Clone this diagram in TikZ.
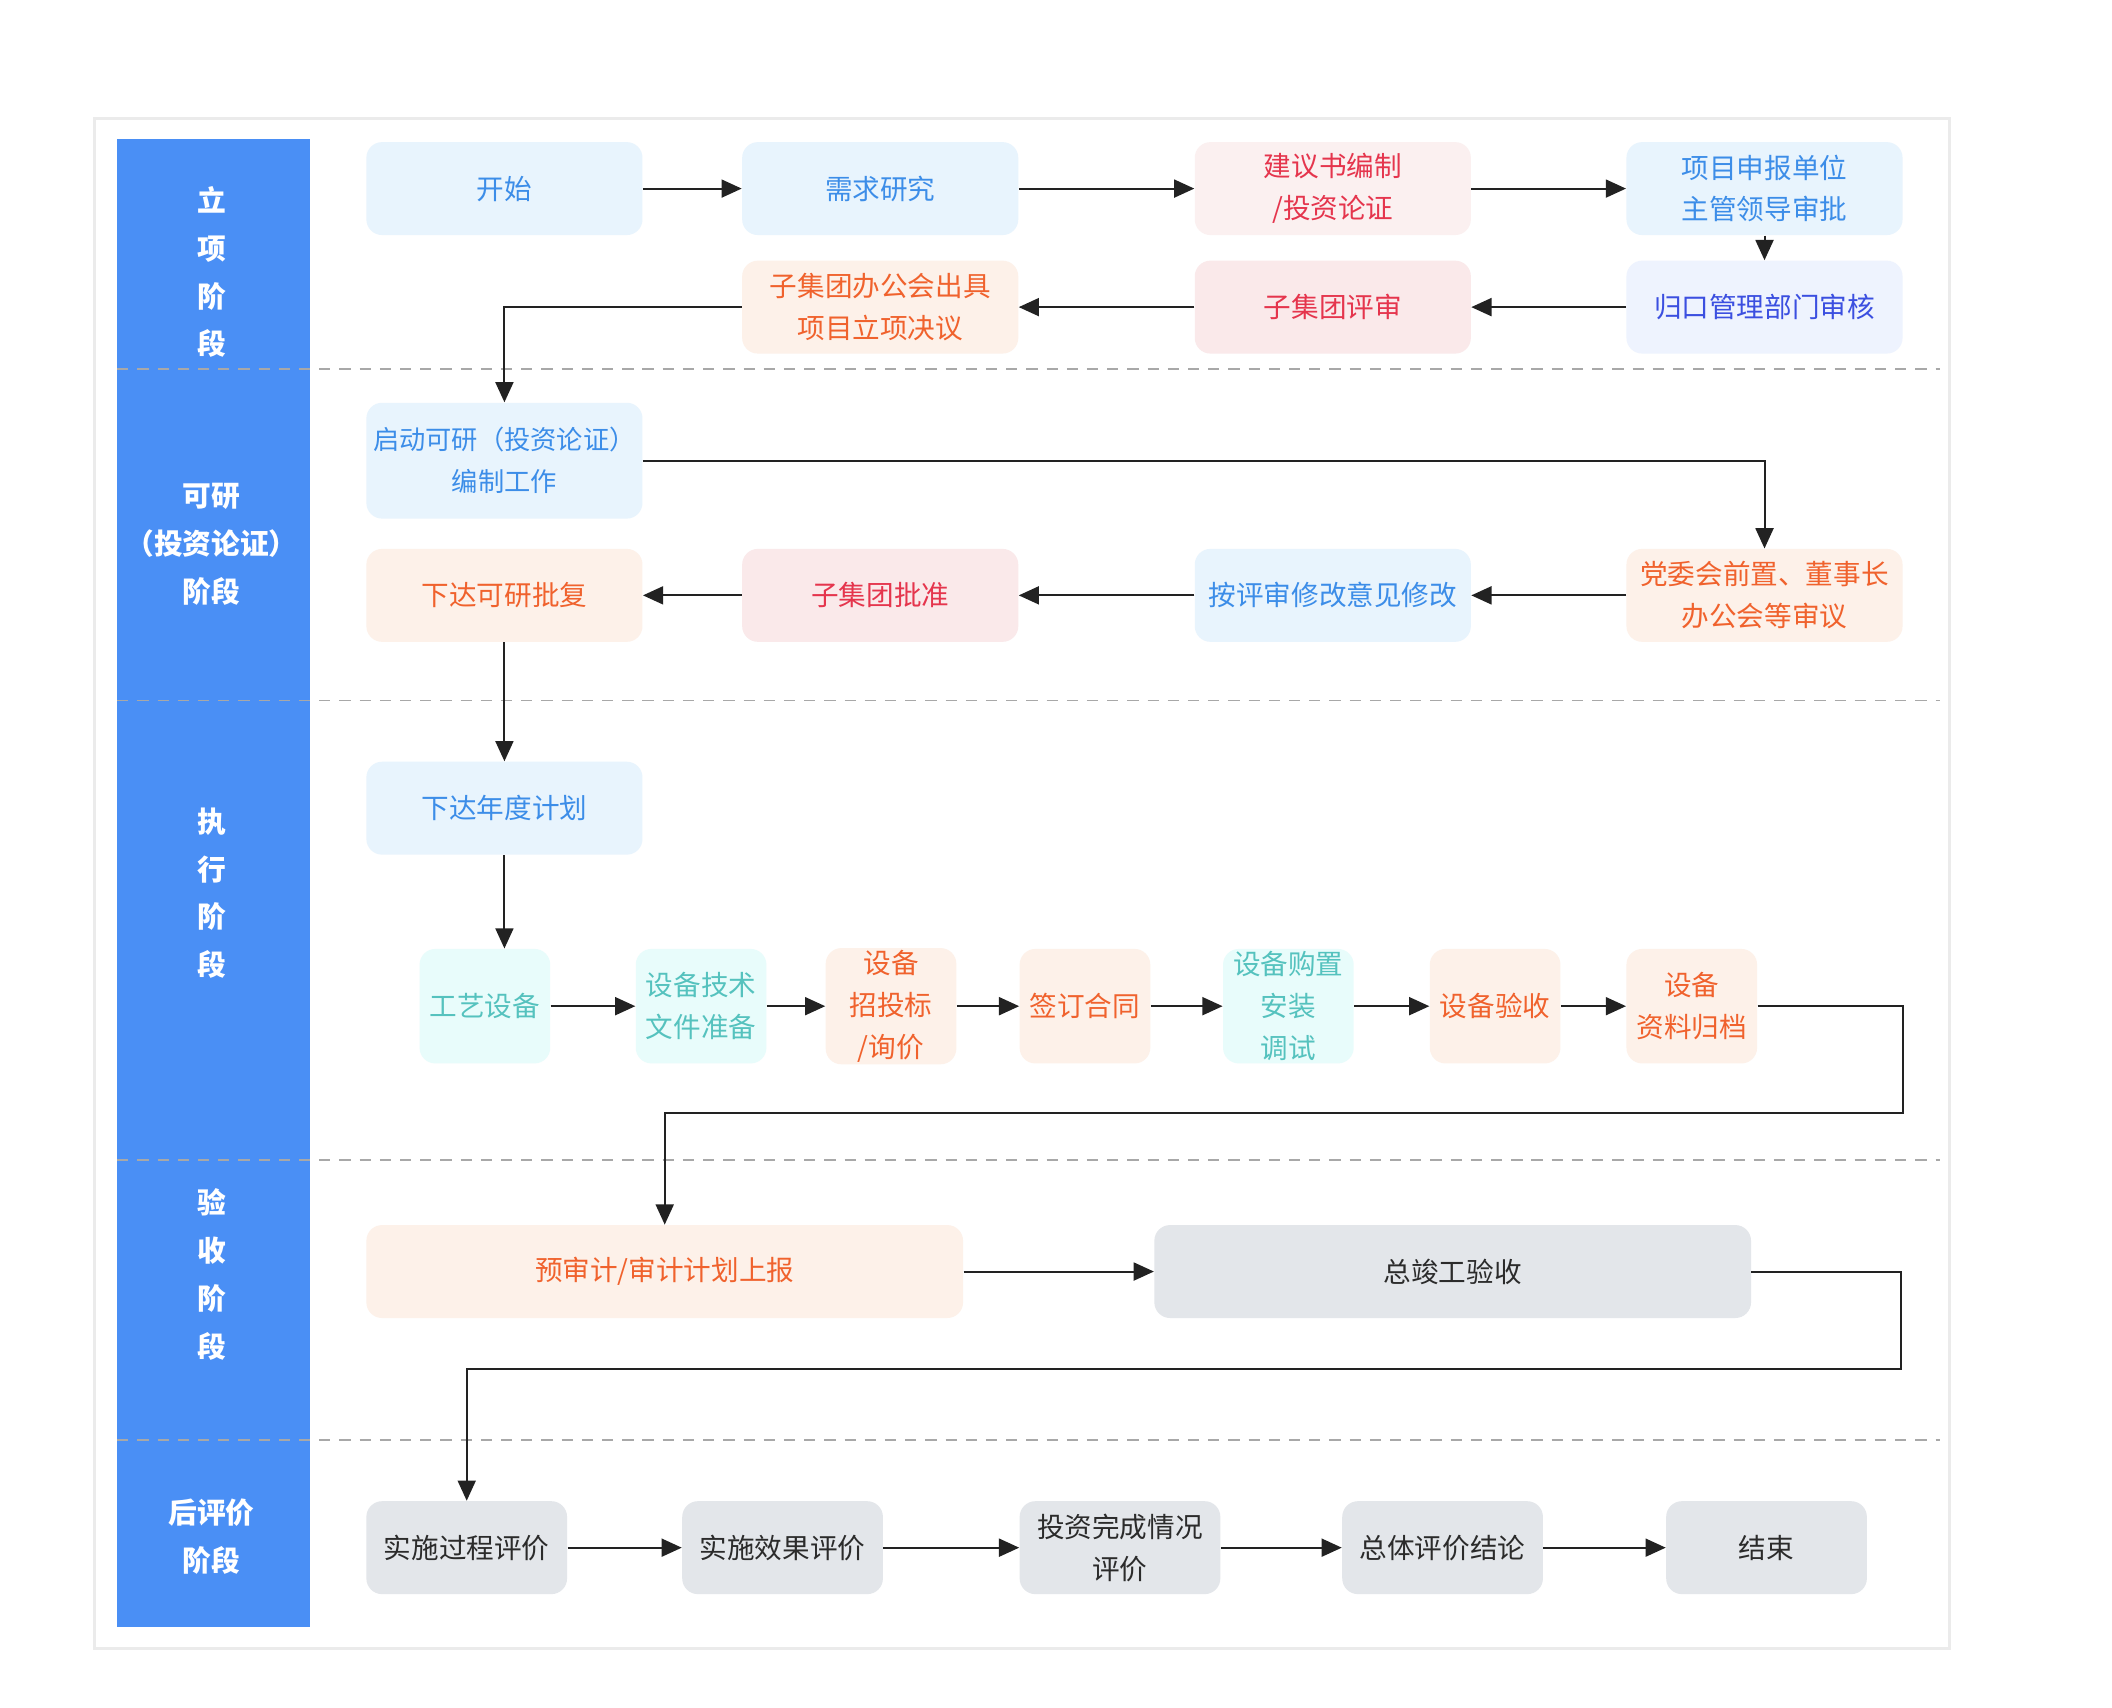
\documentclass[tikz,border=0pt]{standalone}
\usepackage{fontspec}
\setmainfont{Noto Sans CJK SC}
\usetikzlibrary{arrows.meta}

\definecolor{laneblue}{HTML}{4A8FF5}
\definecolor{framegray}{HTML}{EBEBEB}
\definecolor{sepgray}{HTML}{A8A8A8}
\definecolor{arrowblack}{HTML}{222222}
\definecolor{bluefill}{HTML}{E8F4FD}
\definecolor{bluetext}{HTML}{3C8DE8}
\definecolor{redfill}{HTML}{FAE9EA}
\definecolor{redtext}{HTML}{E5354D}
\definecolor{indigofill}{HTML}{EEF3FE}
\definecolor{indigotext}{HTML}{3B4FE0}
\definecolor{orangefill}{HTML}{FDF1E9}
\definecolor{orangetext}{HTML}{F0622D}
\definecolor{tealfill}{HTML}{E8FCFB}
\definecolor{tealtext}{HTML}{55C2BE}
\definecolor{grayfill}{HTML}{E3E6EA}
\definecolor{graytext}{HTML}{2B2B2B}

\begin{document}
\begin{tikzpicture}[x=0.6pt,y=-0.6pt,
  box/.style={rounded corners=7pt,align=center,minimum width=123pt,minimum height=41.4pt,
    inner sep=1pt,font=\fontsize{12.3}{18.6}\selectfont},
  bluebox/.style={box,fill=bluefill,text=bluetext},
  redbox/.style={box,fill=redfill,text=redtext},
  indigobox/.style={box,fill=indigofill,text=indigotext},
  orangebox/.style={box,fill=orangefill,text=orangetext},
  tealbox/.style={box,fill=tealfill,text=tealtext},
  graybox/.style={box,fill=grayfill,text=graytext},
  small/.style={minimum width=58.2pt,minimum height=51pt},
  wide/.style={minimum width=265.8pt},
  eval/.style={minimum width=89.4pt},
  arr/.style={-{Triangle[length=9pt,width=8pt]},line width=0.9pt,draw=arrowblack},
  lane/.style={text=white,align=center,font=\bfseries\fontsize{12.8}{21.3}\selectfont},
  sep/.style={draw=sepgray,line width=0.8pt,dash pattern=on 5pt off 4pt}]

\useasboundingbox (0,0) rectangle (1568,1268);
\draw[framegray,line width=1.3pt,fill=white] (70,88) rectangle (1447,1224);
\fill[laneblue] (87,103) rectangle (230,1208);
\foreach \y in {274,520,861,1069}
  \draw[sep] (87,\y) -- (1440,\y);

% lanes
\node[lane] (lane1) at (157,202) {立\\项\\阶\\段};
\node[lane] (lane2) at (157,404) {可研\\（投资论证）\\阶段};
\node[lane] (lane3) at (157,663) {执\\行\\阶\\段};
\node[lane] (lane4) at (157,946) {验\\收\\阶\\段};
\node[lane] (lane5) at (157,1141) {后评价\\阶段};

% 立项
\node[bluebox] (start) at (374.5,140) {开始};
\node[bluebox] (need) at (653.5,140) {需求研究};
\node[redbox,fill=redfill!70!white] (proposal) at (989.5,140) {建议书编制\\/投资论证};
\node[bluebox] (declare) at (1310,140) {项目申报单位\\主管领导审批};
\node[indigobox] (deptcheck) at (1310,228) {归口管理部门审核};
\node[redbox] (groupreview) at (989.5,228) {子集团评审};
\node[orangebox] (decision) at (653.5,228) {子集团办公会出具\\项目立项决议};

% 可研
\node[bluebox,minimum height=51.6pt,font=\fontsize{11.7}{18.6}\selectfont] (kick) at (374.5,342) {启动可研（投资论证）\\编制工作};
\node[orangebox] (party) at (1310,442) {党委会前置、董事长\\办公会等审议};
\node[bluebox] (modify) at (989.5,442) {按评审修改意见修改};
\node[redbox] (approve) at (653.5,442) {子集团批准};
\node[orangebox] (reply) at (374.5,442) {下达可研批复};

% 执行
\node[bluebox] (annual) at (374.5,600) {下达年度计划};
\node[tealbox,small] (craft) at (360,747) {工艺设备};
\node[tealbox,small] (techdoc) at (520.5,747) {设备技术\\文件准备};
\node[orangebox,small] (tender) at (661.5,747) {设备\\招投标\\/询价};
\node[orangebox,small] (contract) at (805.5,747) {签订合同};
\node[tealbox,small] (install) at (956.5,747) {设备购置\\安装\\调试};
\node[orangebox,small] (accept) at (1110,747) {设备验收};
\node[orangebox,small] (archive) at (1256,747) {设备\\资料归档};
\coordinate (turn1) at (1413,826);

% 验收
\node[orangebox,wide] (presub) at (493.5,944) {预审计/审计计划上报};
\node[graybox,wide] (final) at (1078.5,944) {总竣工验收};
\coordinate (turn2) at (1411,1016);

% 后评价
\node[graybox,eval] (proc) at (346.5,1149) {实施过程评价};
\node[graybox,eval] (effect) at (581,1149) {实施效果评价};
\node[graybox,eval] (invest) at (831.5,1149) {投资完成情况\\评价};
\node[graybox,eval] (concl) at (1071,1149) {总体评价结论};
\node[graybox,eval] (finish) at (1311.5,1149) {结束};

% connectors
\draw[arr] (start) -- (need);
\draw[arr] (need) -- (proposal);
\draw[arr] (proposal) -- (declare);
\draw[arr] (declare) -- (deptcheck);
\draw[arr] (deptcheck) -- (groupreview);
\draw[arr] (groupreview) -- (decision);
\draw[arr] (decision.west) -| (kick.north);
\draw[arr] (kick.east) -| (party.north);
\draw[arr] (party) -- (modify);
\draw[arr] (modify) -- (approve);
\draw[arr] (approve) -- (reply);
\draw[arr] (reply) -- (annual);
\draw[arr] (annual.south) -- (annual.south |- craft.north);
\draw[arr] (craft) -- (techdoc);
\draw[arr] (techdoc) -- (tender);
\draw[arr] (tender) -- (contract);
\draw[arr] (contract) -- (install);
\draw[arr] (install) -- (accept);
\draw[arr] (accept) -- (archive);
\draw[arr] (archive.east) -| (turn1) -| (presub.north);
\draw[arr] (presub) -- (final);
\draw[arr] (final.east) -| (turn2) -| (proc.north);
\draw[arr] (proc) -- (effect);
\draw[arr] (effect) -- (invest);
\draw[arr] (invest) -- (concl);
\draw[arr] (concl) -- (finish);

\end{tikzpicture}
\end{document}
